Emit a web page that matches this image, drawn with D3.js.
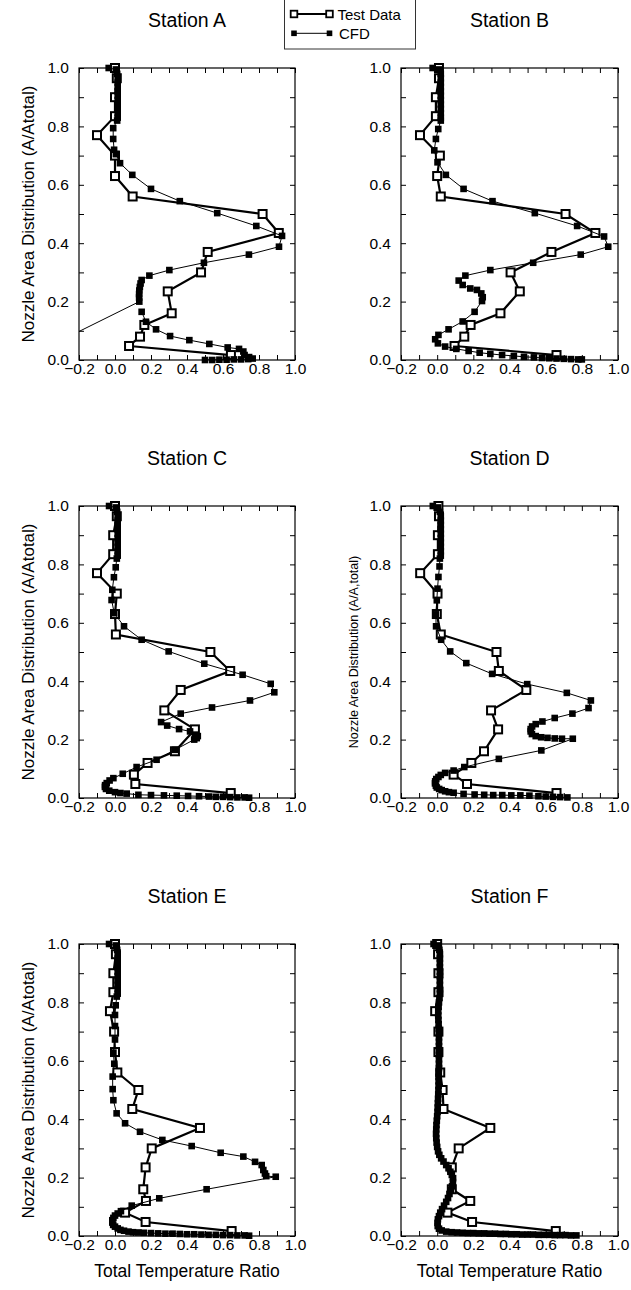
<!DOCTYPE html>
<html><head><meta charset="utf-8">
<script src="https://cdn.jsdelivr.net/npm/d3@7"></script>
<style>
body{margin:0;background:#fff}
svg{display:block}
text{font-family:"Liberation Sans", Arial, Helvetica, sans-serif;fill:#000}
</style>
</head><body>
<svg id="chart" width="631" height="1290"></svg>
<script>
// ---------------- DATA ----------------
const stationNames = ["Station A","Station B","Station C","Station D","Station E","Station F"];
const legendLabels = ["Test Data","CFD"];
const xLabel = "Total Temperature Ratio";
const yLabel = "Nozzle Area Distribution (A/Atotal)";
const yLabelD = "Nozzle Area Distribution (A/A,total)";
const xTickValues = [-0.2,-0.1,0.0,0.1,0.2,0.3,0.4,0.5,0.6,0.7,0.8,0.9,1.0];
const yTickValues = [0.0,0.1,0.2,0.3,0.4,0.5,0.6,0.7,0.8,0.9,1.0];

// test data: common area positions, temperature ratio per station
const testY = [1.0,0.965,0.9,0.835,0.77,0.70,0.63,0.56,0.50,0.435,0.37,0.30,0.235,0.16,0.12,0.08,0.048,0.017];
const testA = [0.0,0.01,0.0,0.0,-0.10,0.0,0.0,0.098,0.82,0.91,0.515,0.478,0.293,0.315,0.163,0.139,0.078,0.644];
const testB = [0.01,0.01,-0.007,-0.007,-0.095,0.015,0.0,0.02,0.71,0.875,0.632,0.406,0.457,0.35,0.185,0.15,0.096,0.66];
const testC = [0.0,0.01,-0.01,-0.01,-0.10,0.01,0.0,0.005,0.53,0.64,0.365,0.274,0.444,0.333,0.181,0.105,0.113,0.643];
const testD = [0.007,0.01,0.004,0.004,-0.094,0.002,-0.002,0.02,0.328,0.341,0.493,0.298,0.337,0.259,0.189,0.091,0.165,0.66];
const testE = [0.0,0.005,-0.009,-0.009,-0.028,-0.005,0.0,0.013,0.13,0.096,0.472,0.204,0.17,0.157,0.172,0.056,0.17,0.648];
const testF = [0.0,0.005,0.007,0.007,-0.011,0.007,0.007,0.017,0.03,0.035,0.294,0.119,0.081,0.081,0.183,0.057,0.193,0.656];

// CFD: [temperature ratio, area] (null = break in the line)
const cfdA = [[-0.035,1.0],[0.005,0.995],[0.012,0.98],[0.015,0.965],[0.015,0.95],[0.015,0.935],[0.015,0.92],[0.015,0.905],[0.015,0.89],[0.015,0.875],[0.015,0.86],[0.015,0.845],[0.015,0.83],[0.012,0.82],[-0.01,0.794],[-0.01,0.757],[-0.005,0.72],[0.005,0.705],[0.028,0.674],[0.096,0.634],[0.2,0.586],[0.36,0.544],[0.568,0.503],[0.785,0.459],[0.928,0.425],[0.911,0.388],[0.744,0.361],[0.494,0.333],[0.302,0.308],[0.191,0.289],[0.148,0.274],[0.142,0.262],[0.138,0.25],[0.135,0.238],[0.134,0.226],[0.134,0.214],[0.135,0.2],[-0.52,0.0],null,[0.148,0.165],[0.172,0.131],[0.228,0.105],[0.306,0.082],[0.413,0.068],[0.524,0.055],[0.626,0.043],[0.689,0.038],[0.713,0.029],[0.72,0.017],[0.745,0.01],[0.765,0.005],[0.74,0.003],[0.70,0.002],[0.66,0.002],[0.62,0.001],[0.58,0.001],[0.54,0.0],[0.50,0.0]];
const cfdB = [[-0.025,1.0],[0.01,0.995],[0.02,0.98],[0.02,0.965],[0.02,0.95],[0.02,0.935],[0.02,0.92],[0.02,0.905],[0.02,0.89],[0.02,0.875],[0.02,0.86],[0.02,0.845],[0.02,0.83],[0.02,0.82],[0.006,0.791],[-0.007,0.757],[-0.016,0.718],[0.002,0.677],[0.048,0.634],[0.146,0.586],[0.306,0.544],[0.54,0.503],[0.774,0.459],[0.923,0.423],[0.946,0.388],[0.794,0.361],[0.531,0.333],[0.294,0.308],[0.156,0.289],[0.119,0.272],[0.141,0.257],[0.183,0.245],[0.22,0.24],[0.244,0.228],[0.252,0.215],[0.248,0.202],[0.207,0.165],[0.141,0.132],[0.063,0.105],[0.007,0.086],[-0.011,0.071],[0.004,0.057],[0.044,0.046],[0.106,0.038],[0.174,0.031],[0.235,0.025],[0.294,0.021],[0.359,0.017],[0.424,0.014],[0.48,0.011],[0.535,0.009],[0.58,0.007],[0.62,0.006],[0.66,0.005],[0.70,0.004],[0.74,0.003],[0.78,0.002],[0.80,0.002]];
const cfdC = [[-0.033,1.0],[0.005,0.995],[0.012,0.98],[0.015,0.965],[0.015,0.95],[0.015,0.935],[0.015,0.92],[0.015,0.905],[0.015,0.89],[0.015,0.875],[0.015,0.86],[0.015,0.845],[0.015,0.83],[0.01,0.82],[0.004,0.79],[-0.006,0.756],[-0.015,0.713],[-0.019,0.678],[-0.004,0.633],[0.05,0.588],[0.148,0.542],[0.298,0.502],[0.496,0.46],[0.709,0.422],[0.865,0.391],[0.885,0.362],[0.75,0.334],[0.539,0.31],[0.365,0.289],[0.256,0.26],[0.29,0.248],[0.356,0.236],[0.417,0.228],[0.444,0.217],[0.46,0.212],[0.454,0.205],[0.44,0.2],[0.333,0.165],[0.231,0.131],[0.12,0.106],[0.043,0.083],[-0.009,0.068],[-0.03,0.06],[-0.046,0.051],[-0.055,0.044],[-0.056,0.038],[-0.05,0.031],[-0.032,0.025],[0.0,0.02],[0.03,0.017],[0.065,0.015],[0.13,0.011],[0.2,0.01],[0.272,0.009],[0.343,0.008],[0.406,0.007],[0.467,0.006],[0.522,0.005],[0.56,0.004],[0.60,0.004],[0.64,0.003],[0.68,0.002],[0.72,0.002],[0.745,0.001]];
const cfdD = [[-0.024,1.0],[0.005,0.995],[0.015,0.98],[0.02,0.965],[0.02,0.95],[0.02,0.935],[0.02,0.92],[0.02,0.905],[0.02,0.89],[0.02,0.875],[0.02,0.86],[0.02,0.845],[0.02,0.83],[0.015,0.82],[0.013,0.793],[0.007,0.757],[0.002,0.717],[-0.002,0.677],[-0.007,0.629],[-0.006,0.588],[0.022,0.542],[0.072,0.502],[0.161,0.462],[0.304,0.425],[0.498,0.39],[0.717,0.36],[0.85,0.334],[0.837,0.308],[0.748,0.289],[0.65,0.274],[0.582,0.262],[0.545,0.253],[0.525,0.245],[0.517,0.236],[0.517,0.228],[0.524,0.219],[0.545,0.212],[0.575,0.208],[0.61,0.206],[0.65,0.204],[0.69,0.203],[0.75,0.203],[0.576,0.163],[0.341,0.134],[0.15,0.106],[0.091,0.094],[0.044,0.086],[0.02,0.079],[0.007,0.072],[-0.005,0.065],[-0.011,0.057],[-0.012,0.05],[-0.007,0.042],[-0.002,0.036],[0.011,0.031],[0.025,0.027],[0.044,0.023],[0.065,0.02],[0.091,0.018],[0.146,0.014],[0.207,0.012],[0.26,0.011],[0.31,0.01],[0.36,0.01],[0.41,0.009],[0.46,0.009],[0.51,0.008],[0.56,0.006],[0.60,0.005],[0.64,0.004],[0.68,0.003],[0.72,0.002]];
const cfdE = [[-0.033,1.0],[0.005,0.995],[0.012,0.98],[0.015,0.965],[0.015,0.95],[0.015,0.935],[0.015,0.92],[0.015,0.905],[0.015,0.89],[0.015,0.875],[0.015,0.86],[0.015,0.845],[0.015,0.83],[0.01,0.82],[0.004,0.79],[0.0,0.757],[0.0,0.719],[0.0,0.673],[-0.009,0.628],[-0.004,0.59],[-0.013,0.546],[-0.013,0.503],[-0.009,0.465],[0.009,0.42],[0.056,0.386],[0.139,0.357],[0.263,0.329],[0.426,0.308],[0.587,0.285],[0.713,0.272],[0.778,0.254],[0.815,0.243],[0.824,0.226],[0.833,0.214],[0.84,0.205],[0.893,0.203],[0.509,0.16],[0.246,0.129],[0.093,0.104],[0.033,0.085],[0.015,0.077],[0.0,0.07],[-0.009,0.062],[-0.015,0.054],[-0.015,0.046],[-0.01,0.038],[0.0,0.032],[0.015,0.026],[0.03,0.021],[0.05,0.018],[0.075,0.015],[0.10,0.013],[0.13,0.012],[0.16,0.011],[0.20,0.01],[0.24,0.009],[0.28,0.008],[0.32,0.008],[0.36,0.007],[0.40,0.006],[0.44,0.006],[0.48,0.005],[0.52,0.004],[0.56,0.004],[0.60,0.003],[0.64,0.003],[0.68,0.002],[0.72,0.002],[0.745,0.001]];
const cfdF = [[-0.02,1.0],[0.005,0.995],[0.012,0.98],[0.015,0.965],[0.015,0.95],[0.015,0.935],[0.015,0.92],[0.015,0.905],[0.015,0.89],[0.015,0.875],[0.015,0.86],[0.015,0.845],[0.015,0.83],[0.013,0.815],[0.01,0.80],[0.008,0.785],[0.006,0.77],[0.006,0.755],[0.007,0.74],[0.008,0.725],[0.009,0.71],[0.01,0.695],[0.01,0.68],[0.01,0.665],[0.01,0.65],[0.01,0.635],[0.01,0.62],[0.01,0.605],[0.01,0.59],[0.01,0.575],[0.009,0.56],[0.008,0.545],[0.008,0.53],[0.008,0.515],[0.007,0.50],[0.006,0.485],[0.005,0.47],[0.004,0.455],[0.003,0.44],[0.002,0.425],[0.0,0.41],[-0.002,0.395],[-0.004,0.38],[-0.005,0.365],[-0.006,0.35],[-0.005,0.335],[-0.003,0.32],[0.0,0.305],[0.005,0.29],[0.012,0.278],[0.022,0.266],[0.035,0.255],[0.05,0.243],[0.063,0.232],[0.073,0.22],[0.081,0.209],[0.088,0.198],[0.087,0.185],[0.082,0.17],[0.076,0.157],[0.068,0.144],[0.06,0.13],[0.05,0.117],[0.038,0.104],[0.027,0.092],[0.017,0.08],[0.01,0.068],[0.004,0.057],[0.002,0.045],[0.003,0.034],[0.01,0.025],[0.025,0.019],[0.05,0.015],[0.08,0.013],[0.11,0.012],[0.14,0.011],[0.17,0.01],[0.20,0.01],[0.23,0.009],[0.26,0.009],[0.29,0.008],[0.32,0.008],[0.35,0.007],[0.38,0.007],[0.41,0.006],[0.44,0.006],[0.47,0.005],[0.50,0.005],[0.53,0.005],[0.56,0.004],[0.59,0.004],[0.62,0.004],[0.65,0.003],[0.68,0.003],[0.71,0.003],[0.74,0.002],[0.77,0.002]];

const testSeries = [testA,testB,testC,testD,testE,testF];
const cfdSeries = [cfdA,cfdB,cfdC,cfdD,cfdE,cfdF];

// ---------------- LAYOUT ----------------
const panels = [
  {l:79, t:68, w:216, h:292, yl:"main", xl:false},
  {l:401,t:68, w:217, h:292, yl:null,   xl:false},
  {l:79, t:506,w:216, h:292, yl:"main", xl:false},
  {l:401,t:506,w:217, h:292, yl:"D",    xl:false},
  {l:79, t:944,w:216, h:292, yl:"main", xl:true},
  {l:401,t:944,w:217, h:292, yl:null,   xl:true}
];
const FONT = '"Liberation Sans", Arial, Helvetica, sans-serif';
const svg = d3.select("#chart");
const defs = svg.append("defs");
const fmt = d3.format(".1f");

panels.forEach((p, pi) => {
  const x = d3.scaleLinear().domain([-0.2, 1.0]).range([p.l, p.l + p.w]);
  const y = d3.scaleLinear().domain([0, 1]).range([p.t + p.h, p.t]);
  const g = svg.append("g");

  defs.append("clipPath").attr("id", "clipL" + pi)
    .append("rect").attr("x", p.l).attr("y", p.t).attr("width", p.w).attr("height", p.h);
  defs.append("clipPath").attr("id", "clipM" + pi)
    .append("rect").attr("x", p.l - 6).attr("y", p.t - 6).attr("width", p.w + 12).attr("height", p.h + 12);

  // axes
  const styleAxis = sel => {
    sel.attr("font-size", 15.5).attr("font-family", FONT);
    sel.select(".domain").remove();
    sel.selectAll(".tick line").attr("stroke", "#000").attr("stroke-width", 1);
    sel.selectAll(".tick text").attr("fill", "#000");
  };
  g.append("g").attr("transform", `translate(0,${p.t + p.h})`)
    .call(d3.axisBottom(x).tickValues(xTickValues).tickSize(-5).tickSizeOuter(0).tickPadding(3)
      .tickFormat((d, i) => i % 2 === 0 ? fmt(d) : ""))
    .call(styleAxis);
  g.append("g").attr("transform", `translate(0,${p.t})`)
    .call(d3.axisTop(x).tickValues(xTickValues).tickSize(-5).tickSizeOuter(0).tickFormat(""))
    .call(styleAxis);
  g.append("g").attr("transform", `translate(${p.l},0)`)
    .call(d3.axisLeft(y).tickValues(yTickValues).tickSize(-5).tickSizeOuter(0).tickPadding(10)
      .tickFormat((d, i) => i % 2 === 0 ? fmt(d) : ""))
    .call(styleAxis);
  g.append("g").attr("transform", `translate(${p.l + p.w},0)`)
    .call(d3.axisRight(y).tickValues(yTickValues).tickSize(-5).tickSizeOuter(0).tickFormat(""))
    .call(styleAxis);

  g.append("rect").attr("x", p.l).attr("y", p.t).attr("width", p.w).attr("height", p.h)
    .attr("fill", "none").attr("stroke", "#000").attr("stroke-width", 1.2);

  // title
  g.append("text").attr("x", p.l + p.w / 2).attr("y", p.t - 41)
    .attr("text-anchor", "middle").attr("font-size", 19.5).text(stationNames[pi]);

  if (p.yl === "main") {
    g.append("text").attr("transform", `translate(34,${p.t + p.h / 2}) rotate(-90)`)
      .attr("text-anchor", "middle").attr("font-size", 17).text(yLabel);
  } else if (p.yl === "D") {
    g.append("text").attr("transform", `translate(358,${p.t + p.h / 2}) rotate(-90)`)
      .attr("text-anchor", "middle").attr("font-size", 12.5).text(yLabelD);
  }
  if (p.xl) {
    g.append("text").attr("x", p.l + p.w / 2).attr("y", p.t + p.h + 41)
      .attr("text-anchor", "middle").attr("font-size", 17.5).text(xLabel);
  }

  const line = d3.line().defined(d => d !== null).x(d => x(d[0])).y(d => y(d[1]));
  const test = testY.map((v, i) => [testSeries[pi][i], v]);
  const cfd = cfdSeries[pi];

  const lines = g.append("g").attr("clip-path", `url(#clipL${pi})`);
  const marks = g.append("g").attr("clip-path", `url(#clipM${pi})`);

  lines.append("path").datum(test).attr("d", line)
    .attr("fill", "none").attr("stroke", "#000").attr("stroke-width", 2.2).attr("stroke-linejoin", "miter");
  marks.selectAll("rect.t").data(test).join("rect").attr("class", "t")
    .attr("x", d => x(d[0]) - 4).attr("y", d => y(d[1]) - 4).attr("width", 8).attr("height", 8)
    .attr("fill", "#fff").attr("stroke", "#000").attr("stroke-width", 2);

  const lines2 = g.append("g").attr("clip-path", `url(#clipL${pi})`);
  const marks2 = g.append("g").attr("clip-path", `url(#clipM${pi})`);
  lines2.append("path").datum(cfd).attr("d", line)
    .attr("fill", "none").attr("stroke", "#000").attr("stroke-width", 1);
  marks2.selectAll("rect.c").data(cfd.filter(d => d !== null)).join("rect").attr("class", "c")
    .attr("x", d => x(d[0]) - 3.3).attr("y", d => y(d[1]) - 3.3).attr("width", 6.6).attr("height", 6.6)
    .attr("fill", "#000");
});

// legend
const lg = svg.append("g");
lg.append("rect").attr("x", 284.5).attr("y", -1).attr("width", 131).attr("height", 50)
  .attr("fill", "#fff").attr("stroke", "#333").attr("stroke-width", 1);
const lgRows = [{y:14, open:true}, {y:33.3, open:false}];
lgRows.forEach((r, i) => {
  lg.append("line").attr("x1", 294).attr("x2", 329.5).attr("y1", r.y).attr("y2", r.y)
    .attr("stroke", "#000").attr("stroke-width", r.open ? 2 : 1);
  [294, 329.5].forEach(cx => {
    if (r.open) {
      lg.append("rect").attr("x", cx - 3.3).attr("y", r.y - 3.3).attr("width", 6.6).attr("height", 6.6)
        .attr("fill", "#fff").attr("stroke", "#000").attr("stroke-width", 1.8);
    } else {
      lg.append("rect").attr("x", cx - 2.8).attr("y", r.y - 2.8).attr("width", 5.6).attr("height", 5.6)
        .attr("fill", "#000");
    }
  });
  lg.append("text").attr("x", i === 0 ? 337.5 : 339).attr("y", r.y + 5.5)
    .attr("font-size", 15).text(legendLabels[i]);
});
</script>
</body></html>
